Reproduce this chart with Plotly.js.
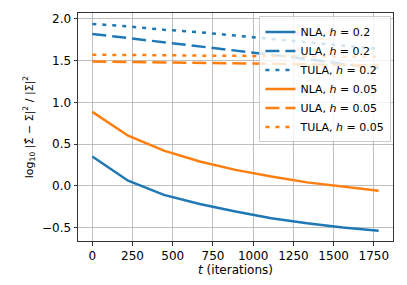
<!DOCTYPE html>
<html><head><meta charset="utf-8">
<script src="https://cdn.plot.ly/plotly-3.0.1.min.js"></script>
<style>body{margin:0;padding:0;background:#fff}#c{width:407px;height:285px}</style>
</head><body><div id="c"></div>
<script>
const iters = [0, 222.5, 445, 667.5, 890, 1112.5, 1335, 1557.5, 1780];
const nla02 = [0.35, 0.06, -0.11, -0.22, -0.31, -0.39, -0.45, -0.50, -0.54];
const ula02 = [1.82, 1.77, 1.72, 1.67, 1.62, 1.57, 1.52, 1.46, 1.41];
const tula02 = [1.94, 1.91, 1.87, 1.84, 1.80, 1.76, 1.72, 1.68, 1.64];
const nla005 = [0.885, 0.60, 0.42, 0.29, 0.19, 0.11, 0.04, -0.01, -0.06];
const ula005 = [1.49, 1.485, 1.48, 1.475, 1.47, 1.46, 1.455, 1.45, 1.44];
const tula005 = [1.57, 1.57, 1.565, 1.56, 1.56, 1.555, 1.55, 1.55, 1.545];
const names = ["NLA, <i>h</i> = 0.2","ULA, <i>h</i> = 0.2","TULA, <i>h</i> = 0.2","NLA, <i>h</i> = 0.05","ULA, <i>h</i> = 0.05","TULA, <i>h</i> = 0.05"];
const series = [nla02, ula02, tula02, nla005, ula005, tula005];
const colors = ["#1f77b4","#1f77b4","#1f77b4","#ff7f0e","#ff7f0e","#ff7f0e"];
const dashes = ["solid","14px,6px","4px,6px","solid","14px,6px","4px,6px"];
const xticks = [0,250,500,750,1000,1250,1500,1750];
const yticks = [-0.5,0,0.5,1,1.5,2];
const yticktext = ["\u22120.5","0.0","0.5","1.0","1.5","2.0"];
const traces = series.map((s,i)=>({x:iters,y:s,type:"scatter",mode:"lines",name:names[i],
  line:{color:colors[i],width:2.5,dash:dashes[i]}}));
const layout = {
  width:407,height:285,margin:{l:78,r:14,t:13,b:44},
  paper_bgcolor:"#fff",plot_bgcolor:"#fff",
  font:{family:"DejaVu Sans",size:12,color:"#000"},
  showlegend:true,
  legend:{x:0.995,y:0.985,xanchor:"right",yanchor:"top",bgcolor:"rgba(255,255,255,0.8)",
    bordercolor:"#cccccc",borderwidth:1,font:{size:11},tracegroupgap:0,itemwidth:30},
  xaxis:{range:[-89,1869],tickvals:xticks,ticktext:xticks.map(String),showgrid:true,gridcolor:"#b0b0b0",gridwidth:0.8,
    zeroline:false,showline:true,linecolor:"#333",linewidth:1,mirror:true,ticks:"outside",ticklen:3.5,tickcolor:"#333",
    title:{text:"<i>t</i> (iterations)",font:{size:12},standoff:3}},
  yaxis:{range:[-0.663,2.071],tickvals:yticks,ticktext:yticktext,showgrid:true,gridcolor:"#b0b0b0",gridwidth:0.8,
    zeroline:false,showline:true,linecolor:"#333",linewidth:1,mirror:true,ticks:"outside",ticklen:3.5,tickcolor:"#333",
    title:{text:"log<sub>10</sub> |Σ̂ − Σ|<sup>2</sup> / |Σ|<sup>2</sup>",font:{size:11},standoff:6}}
};
Plotly.newPlot("c",traces,layout,{displayModeBar:false,staticPlot:true});
</script></body></html>
